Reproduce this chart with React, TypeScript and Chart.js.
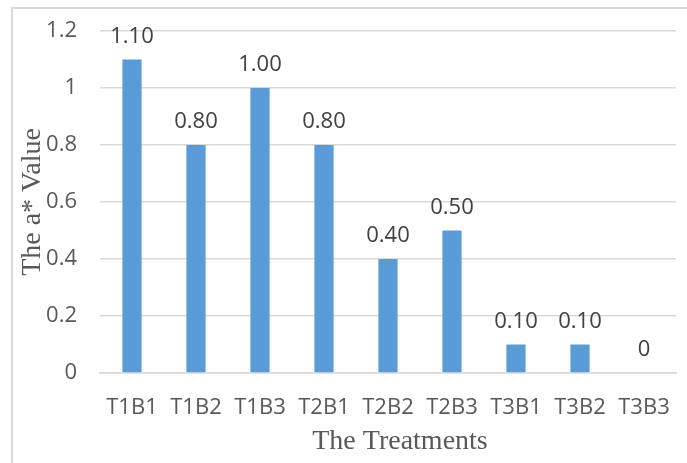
import React, { useEffect, useRef } from "react";
import { Chart, registerables } from "chart.js";

Chart.register(...registerables);

const categories = ["T1B1", "T1B2", "T1B3", "T2B1", "T2B2", "T2B3", "T3B1", "T3B2", "T3B3"];
const values = [1.1, 0.8, 1.0, 0.8, 0.4, 0.5, 0.1, 0.1, 0];
const yTitle = "The a* Value";
const xTitle = "The Treatments";

const tickFont = "'Open Sans', sans-serif";
const titleFont = "'Liberation Serif', 'Times New Roman', serif";

const labelPlugin = {
  id: "valueLabels",
  afterDatasetsDraw(chart: any) {
    const ctx = chart.ctx;
    const meta = chart.getDatasetMeta(0);
    ctx.save();
    ctx.font = `22px ${tickFont}`;
    ctx.fillStyle = "#404040";
    ctx.textAlign = "center";
    ctx.textBaseline = "alphabetic";
    meta.data.forEach((bar: any, i: number) => {
      const v = values[i];
      const txt = v === 0 ? "0" : v.toFixed(2);
      ctx.fillText(txt, bar.x, bar.y - 17);
    });
    ctx.restore();
  },
};

const titlePlugin = {
  id: "axisTitles",
  afterDraw(chart: any) {
    const ctx = chart.ctx;
    ctx.save();
    ctx.font = `28px ${titleFont}`;
    ctx.fillStyle = "#595959";
    ctx.textAlign = "center";
    ctx.textBaseline = "middle";
    ctx.fillText(xTitle, 400, 442);
    ctx.translate(33, 202);
    ctx.rotate(-Math.PI / 2);
    ctx.fillText(yTitle, 0, 0);
    ctx.restore();
  },
};

export default function App() {
  const ref = useRef<HTMLCanvasElement | null>(null);
  useEffect(() => {
    if (!ref.current) return;
    const chart = new Chart(ref.current, {
      type: "bar",
      data: {
        labels: categories,
        datasets: [
          {
            data: values,
            backgroundColor: "#5b9bd5",
            barPercentage: 0.3,
            categoryPercentage: 1,
          },
        ],
      },
      options: {
        animation: false,
        responsive: false,
        maintainAspectRatio: false,
        layout: { padding: { left: 0, top: 31, right: 11, bottom: 0 } },
        plugins: { legend: { display: false }, tooltip: { enabled: false } },
        scales: {
          x: {
            grid: { display: false, drawTicks: false },
            border: { display: true, color: "#d9d9d9", width: 1.5 },
            ticks: {
              color: "#595959",
              font: { family: tickFont, size: 22 },
              padding: 22,
              maxRotation: 0,
              autoSkip: false,
            },
            afterFit: (s: any) => {
              s.height = 90;
              s.paddingLeft = 0;
              s.paddingRight = 0;
            },
          },
          y: {
            min: 0,
            max: 1.2,
            grid: { color: "#d9d9d9", lineWidth: 1.5, drawTicks: false },
            border: { display: false },
            ticks: {
              stepSize: 0.2,
              color: "#595959",
              font: { family: tickFont, size: 22 },
              padding: 23,
              callback: (v: any) => String(Math.round(Number(v) * 10) / 10),
            },
            afterFit: (s: any) => {
              s.width = 100;
              s.paddingTop = 0;
              s.paddingBottom = 0;
            },
          },
        },
      },
      plugins: [labelPlugin, titlePlugin],
    });
    return () => chart.destroy();
  }, []);
  return (
    <div style={{ position: "absolute", left: 0, top: 0, width: 687, height: 463, background: "#fff", overflow: "hidden" }}>
      <div
        style={{
          position: "absolute",
          left: 11,
          top: 7,
          width: 700,
          height: 500,
          borderLeft: "2px solid #d9d9d9",
          borderTop: "2px solid #d9d9d9",
        }}
      />
      <canvas ref={ref} width={687} height={463} style={{ position: "absolute", left: 0, top: 0 }} />
    </div>
  );
}
